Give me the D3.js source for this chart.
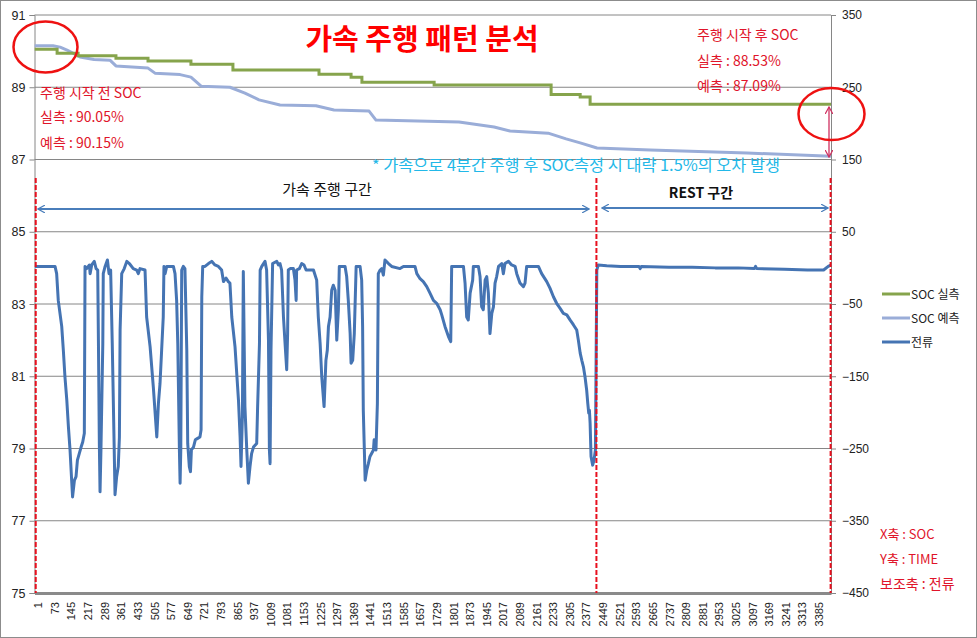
<!DOCTYPE html>
<html><head><meta charset="utf-8">
<script src="https://cdn.jsdelivr.net/npm/d3@7"></script>
<style>
html,body{margin:0;padding:0;background:#fff;}
svg{display:block;}
text{font-family:"Noto Sans CJK KR","Noto Sans",sans-serif;}
.num{font-family:"Liberation Sans",Arial,sans-serif;}
</style></head>
<body>
<svg id="chart" width="977" height="638"></svg>
<script>
// ---------- DATA ----------
const timeCount = 3452;
const xTickLabels = [1,73,145,217,289,361,433,505,577,649,721,793,865,937,1009,1081,1153,1225,1297,1369,1441,1513,1585,1657,1729,1801,1873,1945,2017,2089,2161,2233,2305,2377,2449,2521,2593,2665,2737,2809,2881,2953,3025,3097,3169,3241,3313,3385];
const socTicks = [75,77,79,81,83,85,87,89,91];
const currentTicks = [-450,-350,-250,-150,-50,50,150,250,350];
const seriesNames = ["SOC 실측","SOC 예측","전류"];

// SOC measured (step changes): [time, SOC %]
const socActual = [[1,90.05],[98,89.94],[189,89.87],[353,89.80],[492,89.73],[678,89.64],[860,89.48],[1233,89.36],[1372,89.28],[1419,89.14],[1732,89.06],[2239,88.80],[2365,88.73],[2408,88.53],[3452,88.53]];
// SOC predicted: [time, SOC %]
const socPredicted = [[1,90.15],[80,90.15],[111,90.11],[141,90.03],[197,89.84],[258,89.77],[327,89.75],[353,89.59],[492,89.53],[522,89.39],[631,89.35],[678,89.28],[722,89.03],[847,89.00],[912,88.84],[973,88.65],[1064,88.51],[1220,88.49],[1298,88.37],[1450,88.34],[1480,88.09],[1840,88.04],[1992,87.90],[2061,87.79],[2226,87.73],[2304,87.57],[2365,87.46],[2438,87.32],[2668,87.26],[3088,87.18],[3452,87.09]];
// Current: [time, A]
const currentSamples = [[2,2],[89,2],[96,-8],[103,-45],[118,-81],[125,-114],[132,-151],[140,-183],[147,-220],[154,-252],[161,-294],[165,-317],[173,-294],[180,-289],[186,-266],[194,-257],[202,-248],[209,-241],[216,-229],[219,2],[226,-1],[238,4],[241,-8],[248,4],[259,9],[267,-1],[274,-3],[277,-100],[281,-243],[284,-310],[288,-252],[296,-105],[298,-8],[306,2],[316,11],[323,-8],[330,-3],[337,-105],[345,-243],[349,-314],[356,-289],[363,-275],[368,-234],[371,-86],[378,-8],[389,-1],[400,9],[411,6],[428,-1],[443,-3],[450,-8],[457,-1],[479,-3],[486,-68],[501,-109],[515,-165],[530,-234],[537,-188],[544,-160],[551,-114],[558,-68],[561,2],[566,-8],[573,2],[602,2],[609,-8],[616,-45],[621,-105],[628,-252],[631,-298],[634,-252],[638,-3],[645,2],[652,-1],[660,-114],[664,-243],[671,-275],[676,-282],[680,-252],[689,-248],[697,-238],[707,-236],[717,-234],[722,-224],[725,-40],[729,2],[739,2],[754,6],[768,9],[782,4],[797,2],[811,-3],[819,-19],[830,-14],[840,-19],[847,-21],[855,-68],[869,-109],[884,-183],[891,-234],[895,-275],[901,-206],[905,-5],[912,-192],[920,-252],[927,-298],[934,-275],[941,-257],[949,-248],[963,-243],[967,-192],[975,-105],[978,-3],[985,2],[999,9],[1006,-3],[1014,-100],[1018,-252],[1021,-271],[1025,-114],[1032,6],[1050,9],[1057,4],[1064,6],[1071,-3],[1079,-68],[1086,-105],[1093,-141],[1097,-91],[1100,-3],[1108,-1],[1122,-1],[1129,-17],[1134,-45],[1136,-3],[1148,-1],[1158,6],[1168,4],[1177,-3],[1209,-3],[1223,-17],[1230,-68],[1238,-105],[1245,-151],[1255,-192],[1263,-128],[1269,-114],[1274,-81],[1281,-68],[1288,-31],[1295,-24],[1303,-31],[1310,-100],[1317,-58],[1321,2],[1346,2],[1353,-12],[1360,-45],[1368,-91],[1372,-132],[1379,-128],[1386,-91],[1394,2],[1411,2],[1418,-17],[1422,-81],[1425,-197],[1433,-294],[1440,-280],[1447,-271],[1454,-261],[1469,-252],[1472,-238],[1480,-252],[1486,-188],[1490,-8],[1498,-3],[1505,-1],[1512,-10],[1519,11],[1534,6],[1548,2],[1584,-1],[1599,2],[1649,2],[1657,-8],[1671,-15],[1685,-19],[1700,-26],[1714,-35],[1729,-45],[1743,-49],[1758,-58],[1765,-65],[1779,-81],[1794,-95],[1804,-102],[1808,2],[1859,2],[1866,-21],[1873,-68],[1880,-72],[1888,-35],[1899,-17],[1902,2],[1924,2],[1931,-12],[1938,-54],[1945,-58],[1953,-17],[1960,-12],[1967,-35],[1974,-91],[1982,-63],[1989,-54],[1996,-21],[2003,-12],[2011,2],[2025,6],[2032,-8],[2039,6],[2054,9],[2068,4],[2083,2],[2090,-8],[2104,-21],[2119,-26],[2126,-21],[2133,2],[2184,2],[2198,-8],[2220,-19],[2234,-28],[2249,-40],[2263,-49],[2278,-56],[2292,-63],[2307,-65],[2321,-72],[2336,-79],[2350,-86],[2357,-100],[2365,-118],[2372,-128],[2379,-137],[2386,-151],[2393,-169],[2398,-188],[2402,-201],[2405,-197],[2408,-215],[2412,-261],[2419,-273],[2425,-266],[2431,-252],[2437,-3],[2443,4],[2480,3],[2540,2],[2620,2],[2625,-1],[2630,2],[2750,1],[2850,1],[2950,0],[3050,0],[3120,-1],[3125,2],[3130,-1],[3250,-2],[3350,-3],[3420,-3],[3440,2],[3452,4]];

// ---------- STYLE ----------
const colors = {actual:"#86a44c", predicted:"#9aadd8", current:"#4574b3"};
const W = 977, H = 638;
const plot = {left:34.5, right:831, top:15, bottom:593};

const svg = d3.select("#chart");
svg.append("rect").attr("x",0.5).attr("y",0.5).attr("width",W-1).attr("height",H-1)
  .attr("fill","#fff").attr("stroke","#8c8c8c");

const x = d3.scaleLinear().domain([0, timeCount]).range([plot.left, plot.right]);
const yL = d3.scaleLinear().domain([75, 91]).range([plot.bottom, plot.top]);
const yR = d3.scaleLinear().domain([-450, 350]).range([plot.bottom, plot.top]);

// gridlines
svg.append("g").selectAll("line").data(socTicks).join("line")
  .attr("x1",plot.left).attr("x2",plot.right)
  .attr("y1",d=>yL(d)).attr("y2",d=>yL(d))
  .attr("stroke","#868686").attr("stroke-width",1);

// left axis
const gL = svg.append("g").attr("transform",`translate(${plot.left},0)`)
  .call(d3.axisLeft(yL).tickValues(socTicks).tickSize(5).tickPadding(4).tickFormat(d3.format("d")));
gL.select(".domain").attr("stroke","#868686");
gL.selectAll(".tick line").attr("stroke","#868686");
gL.selectAll("text").attr("class","num").attr("font-size",12.5).attr("fill","#222");

// right axis
const gR = svg.append("g").attr("transform",`translate(${plot.right},0)`)
  .call(d3.axisRight(yR).tickValues(currentTicks).tickSize(5).tickPadding(6).tickFormat(d3.format("d")));
gR.select(".domain").attr("stroke","#868686");
gR.selectAll(".tick line").attr("stroke","#868686");
gR.selectAll("text").attr("class","num").attr("font-size",12).attr("fill","#222");

// bottom axis
const gB = svg.append("g").attr("transform",`translate(0,${plot.bottom})`)
  .call(d3.axisBottom(x).tickValues(xTickLabels).tickSize(0).tickFormat(d=>d));
gB.select(".domain").attr("stroke","#8a8a8a").attr("stroke-width",3);
gB.selectAll("text").attr("class","num").attr("font-size",11).attr("fill","#222")
  .attr("text-anchor","end").attr("dominant-baseline","central")
  .attr("transform",function(d){return "translate(3,0) rotate(-90)";})
  .attr("x",-9).attr("y",0).attr("dy",null);

// series
const lineL = d3.line().x(d=>x(d[0])).y(d=>yL(d[1]));
svg.append("path").datum(socPredicted).attr("d",lineL)
  .attr("fill","none").attr("stroke",colors.predicted).attr("stroke-width",3).attr("stroke-linejoin","round");
svg.append("path").datum(socActual).attr("d",d3.line().curve(d3.curveStepAfter).x(d=>x(d[0])).y(d=>yL(d[1])))
  .attr("fill","none").attr("stroke",colors.actual).attr("stroke-width",3);
svg.append("path").datum(currentSamples).attr("d",d3.line().x(d=>x(d[0])).y(d=>yR(d[1])))
  .attr("fill","none").attr("stroke",colors.current).attr("stroke-width",3).attr("stroke-linejoin","round");

// red dashed section lines
[1, 2431, 3446].forEach(t=>{
  svg.append("line").attr("x1",x(t)+1).attr("x2",x(t)+1).attr("y1",178).attr("y2",plot.bottom)
    .attr("stroke","#e8101e").attr("stroke-width",2).attr("stroke-dasharray","5,2");
});

// arrow markers
const defs = svg.append("defs");
function marker(id,color){
  defs.append("marker").attr("id",id).attr("viewBox","0 0 10 10").attr("refX",9).attr("refY",5)
    .attr("markerWidth",8).attr("markerHeight",8).attr("orient","auto-start-reverse").attr("markerUnits","userSpaceOnUse")
    .append("path").attr("d","M0,0 L9,5 L0,10").attr("fill","none").attr("stroke",color).attr("stroke-width",1.6);
}
marker("ab","#4a7ebb");
marker("ar","#d03060");
svg.append("line").attr("x1",38).attr("x2",589).attr("y1",209).attr("y2",209)
  .attr("stroke","#4a7ebb").attr("stroke-width",2).attr("marker-start","url(#ab)").attr("marker-end","url(#ab)");
svg.append("line").attr("x1",602).attr("x2",828).attr("y1",208).attr("y2",208)
  .attr("stroke","#4a7ebb").attr("stroke-width",2).attr("marker-start","url(#ab)").attr("marker-end","url(#ab)");
svg.append("line").attr("x1",829).attr("x2",829).attr("y1",107).attr("y2",157)
  .attr("stroke","#d03060").attr("stroke-width",1.3).attr("marker-start","url(#ar)").attr("marker-end","url(#ar)");

// ellipses
svg.append("ellipse").attr("cx",45.5).attr("cy",47).attr("rx",32).attr("ry",25.5)
  .attr("fill","none").attr("stroke","#ee1111").attr("stroke-width",2.5);
svg.append("ellipse").attr("cx",831.5).attr("cy",114).attr("rx",33).attr("ry",26)
  .attr("fill","none").attr("stroke","#ee1111").attr("stroke-width",2.5);

// texts
function txt(s,xx,yy,size,color,opts={}){
  const t = svg.append("text").attr("x",xx).attr("y",yy).attr("font-size",size).attr("fill",color).text(s);
  if(opts.anchor) t.attr("text-anchor",opts.anchor);
  if(opts.bold) t.attr("font-weight","bold");
  if(opts.len) t.attr("textLength",opts.len).attr("lengthAdjust","spacingAndGlyphs");
  return t;
}
txt("가속 주행 패턴 분석",422,50,29,"#ff0000",{anchor:"middle",bold:true});
const red = "#e0142a";
txt("주행 시작 전 SOC",40,98,14,red);
txt("실측 : 90.05%",40,122,14,red);
txt("예측 : 90.15%",40,148,14,red);
txt("주행 시작 후 SOC",697,40,14,red);
txt("실측 : 88.53%",697,66,14,red);
txt("예측 : 87.09%",697,91,14,red);
txt("* 가속으로 4분간 주행 후 SOC측정 시 대략 1.5%의 오차 발생",372,171,15.5,"#22b8e8",{len:408});
txt("가속 주행 구간",327,195,15,"#111",{anchor:"middle"});
txt("REST 구간",701,198,14,"#111",{anchor:"middle",bold:true});
txt("X축 : SOC",880,539,13,red);
txt("Y축 : TIME",880,564,13,red);
txt("보조축 : 전류",880,589,14,red);

// legend
const legColors = [colors.actual, colors.predicted, colors.current];
const leg = svg.append("g");
seriesNames.forEach((n,i)=>{
  const yy = 294 + i*24;
  leg.append("line").attr("x1",882).attr("x2",910).attr("y1",yy).attr("y2",yy)
    .attr("stroke",legColors[i]).attr("stroke-width",3);
  leg.append("text").attr("x",911).attr("y",yy+4.5).attr("font-size",12).attr("fill","#222").text(n);
});
</script>
</body></html>
